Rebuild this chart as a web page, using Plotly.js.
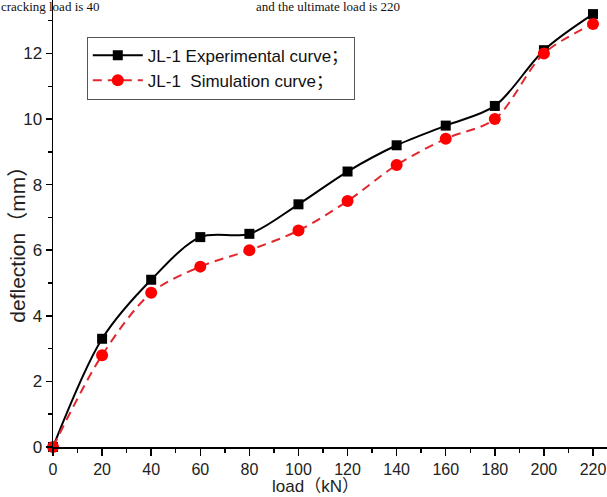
<!DOCTYPE html>
<html>
<head>
<meta charset="utf-8">
<script src="https://cdn.plot.ly/plotly-3.0.1.min.js"></script>
<style>html,body{margin:0;padding:0;background:#fff;}#chart{width:607px;height:497px;}</style>
</head>
<body>
<div id="chart"></div>
<script>
const loads = [0, 20, 40, 60, 80, 100, 120, 140, 160, 180, 200, 220];
const experimental = [0, 3.3, 5.1, 6.4, 6.5, 7.4, 8.4, 9.2, 9.8, 10.4, 12.1, 13.2];
const simulation = [0, 2.8, 4.7, 5.5, 6.0, 6.6, 7.5, 8.6, 9.4, 10.0, 12.0, 12.9];
const seriesNames = ["JL-1 Experimental curve；", "JL-1  Simulation curve；"];
const xTicks = [0, 20, 40, 60, 80, 100, 120, 140, 160, 180, 200, 220];
const yTicks = [0, 2, 4, 6, 8, 10, 12];
const xTitle = "load（kN）";
const yTitle = "deflection（mm）";
const captionParts = ["cracking load is 40", "and the ultimate load is 220"];

const font = "Arial, 'Liberation Sans', 'Noto Sans CJK SC', sans-serif";
const serif = "'Liberation Serif', 'Times New Roman', serif";

const traces = [
  {
    x: loads, y: experimental, name: seriesNames[0], type: "scatter", mode: "lines+markers",
    line: {color: "#000000", width: 2, shape: "spline", smoothing: 0.9},
    marker: {symbol: "square", size: 10, color: "#000000"},
    cliponaxis: false
  },
  {
    x: loads, y: simulation, name: seriesNames[1], type: "scatter", mode: "lines+markers",
    line: {color: "#e0282e", width: 2, dash: "9px,6px", shape: "spline", smoothing: 0.9},
    marker: {symbol: "circle", size: 12, color: "#ff0000"},
    cliponaxis: false
  }
];

const layout = {
  width: 607, height: 497,
  margin: {l: 53, r: 0, t: 0, b: 50},
  paper_bgcolor: "#ffffff", plot_bgcolor: "#ffffff",
  font: {family: font, size: 17, color: "#222222"},
  showlegend: true,
  legend: {
    x: 0.061, y: 0.918, xanchor: "left", yanchor: "top",
    bordercolor: "#555555", borderwidth: 1, bgcolor: "rgba(255,255,255,0)",
    font: {family: font, size: 17, color: "#111111"},
    itemwidth: 50, tracegroupgap: 0
  },
  xaxis: {
    range: [0, 225.7], tickvals: xTicks, ticktext: xTicks.map(String),
    showgrid: false, zeroline: false, showline: true, linecolor: "#000", linewidth: 1.5,
    ticks: "outside", ticklen: 7, tickwidth: 1.5, tickcolor: "#000",
    ticklabelstandoff: 0, ticklabeloverflow: "allow",
    minor: {dtick: 10, tick0: 0, ticks: "outside", ticklen: 4, tickwidth: 1.5, tickcolor: "#000", showgrid: false},
    tickfont: {family: font, size: 16, color: "#222"}
  },
  yaxis: {
    range: [0, 13.63], tickvals: yTicks, ticktext: yTicks.map(String),
    showgrid: false, zeroline: false, showline: true, linecolor: "#000", linewidth: 1.5,
    ticks: "outside", ticklen: 6, tickwidth: 1.5, tickcolor: "#000",
    ticklabeloverflow: "allow",
    minor: {dtick: 1, tick0: 0, ticks: "outside", ticklen: 4, tickwidth: 1.5, tickcolor: "#000", showgrid: false},
    tickfont: {family: font, size: 17, color: "#222"}
  },
  annotations: [
    {xref: "paper", yref: "paper", x: 0.473, y: 0, xanchor: "center", yanchor: "bottom", yshift: -50,
     text: xTitle, showarrow: false, borderpad: 0,
     font: {family: font, size: 17, color: "#222"}},
    {xref: "paper", yref: "paper", x: -0.064, y: 0.465, xanchor: "center", yanchor: "middle",
     textangle: -90, text: yTitle, showarrow: false, borderpad: 0,
     font: {family: font, size: 21, color: "#222"}},
    {xref: "paper", yref: "paper", x: -0.096, y: 1, xanchor: "left", yanchor: "top", yshift: 2,
     text: captionParts[0], showarrow: false, borderpad: 0,
     font: {family: serif, size: 13, color: "#111"}},
    {xref: "paper", yref: "paper", x: 0.365, y: 1, xanchor: "left", yanchor: "top", yshift: 2,
     text: captionParts[1], showarrow: false, borderpad: 0,
     font: {family: serif, size: 13, color: "#111"}}
  ]
};

Plotly.newPlot("chart", traces, layout, {displayModeBar: false, staticPlot: true});
</script>
</body>
</html>
